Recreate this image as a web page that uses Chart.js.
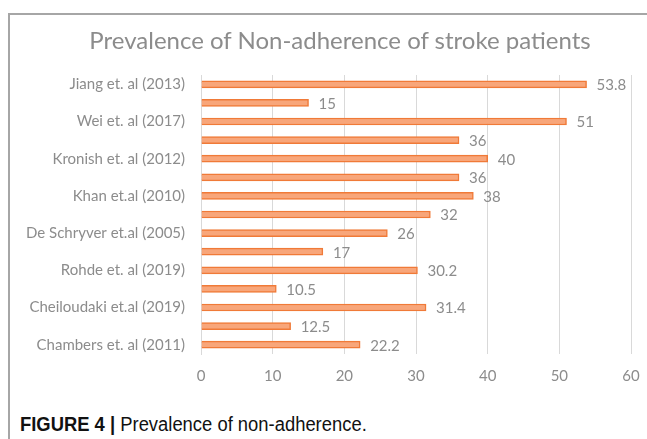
<!DOCTYPE html>
<html>
<head>
<meta charset="utf-8">
<script src="https://cdn.jsdelivr.net/npm/chart.js@4"></script>
<style>
  body { margin: 0; background: #fff; width: 647px; height: 439px; overflow: hidden; position: relative; }
  #frame { position: absolute; left: 8px; top: 13px; width: 660px; height: 440px; border-left: 2px solid #a6a6a6; border-top: 2px solid #a6a6a6; }
  #title { position: absolute; left: 0; top: 25px; width: 680px; text-align: center; font-family: Lato, "Open Sans", sans-serif; font-size: 24px; color: #8c8c8c; white-space: nowrap; }
  #wrap { position: absolute; left: 10px; top: 15px; width: 637px; height: 393px; }
  #caption { position: absolute; left: 20px; top: 413px; font-family: "Liberation Sans", Arial, sans-serif; font-size: 20px; color: #111; transform: scaleX(0.92); transform-origin: left top; white-space: nowrap; }
  #caption b { font-weight: bold; }
</style>
</head>
<body>
<div id="frame"></div>
<div id="wrap"><canvas id="prevalenceChart"></canvas></div>
<div id="title">Prevalence of Non-adherence of stroke patients</div>
<div id="caption"><b>FIGURE 4 |</b> Prevalence of non-adherence.</div>
<script>
// studies, top to bottom (every second label is hidden in the original)
const studies = [
    'Jiang et. al (2013)', '', 'Wei et. al (2017)', '', 'Kronish et. al (2012)', '',
    'Khan et.al (2010)', '', 'De Schryver et.al (2005)', '', 'Rohde et. al (2019)', '',
    'Cheiloudaki et.al (2019)', '', 'Chambers et. al (2011)'
];
const prevalence = [53.8, 15, 51, 36, 40, 36, 38, 32, 26, 17, 30.2, 10.5, 31.4, 12.5, 22.2];
const xTicks = [0, 10, 20, 30, 40, 50, 60];

const gray = '#8c8c8c';
const font = 'Lato, "Open Sans", sans-serif';

// value labels at the end of each bar
const valueLabels = {
    id: 'valueLabels',
    afterDatasetsDraw(chart) {
        const ctx = chart.ctx;
        const meta = chart.getDatasetMeta(0);
        ctx.save();
        ctx.font = '15px ' + font;
        ctx.fillStyle = gray;
        ctx.textBaseline = 'middle';
        meta.data.forEach(function (bar, i) {
            ctx.fillText(String(prevalence[i]), bar.x + 10, bar.y + 1);
        });
        ctx.restore();
    }
};

document.addEventListener('DOMContentLoaded', function () {
    const ctx = document.getElementById('prevalenceChart').getContext('2d');
    new Chart(ctx, {
        type: 'bar',
        data: {
            labels: studies,
            datasets: [{
                label: 'Prevalence',
                data: prevalence,
                backgroundColor: '#f8a67a',
                borderColor: '#f07a38',
                borderWidth: 1.5,
                barThickness: 7
            }]
        },
        options: {
            indexAxis: 'y',
            responsive: true,
            maintainAspectRatio: false,
            animation: false,
            layout: { padding: { left: 8, right: 16, top: 60, bottom: 21 } },
            plugins: {
                legend: { display: false },
                tooltip: { enabled: false },
                title: { display: false }
            },
            scales: {
                x: {
                    min: 0,
                    max: 60,
                    afterBuildTicks: function (axis) {
                        axis.ticks = xTicks.map(function (v) { return { value: v }; });
                    },
                    grid: { color: '#d9d9d9', tickColor: 'transparent', tickLength: 11 },
                    border: { display: false },
                    ticks: { color: gray, padding: 2, font: { family: font, size: 15 } }
                },
                y: {
                    grid: { display: false },
                    border: { color: '#d9d9d9' },
                    ticks: { color: gray, autoSkip: false, padding: 8, font: { family: font, size: 15 } }
                }
            }
        },
        plugins: [valueLabels]
    });
});
</script>
</body>
</html>
